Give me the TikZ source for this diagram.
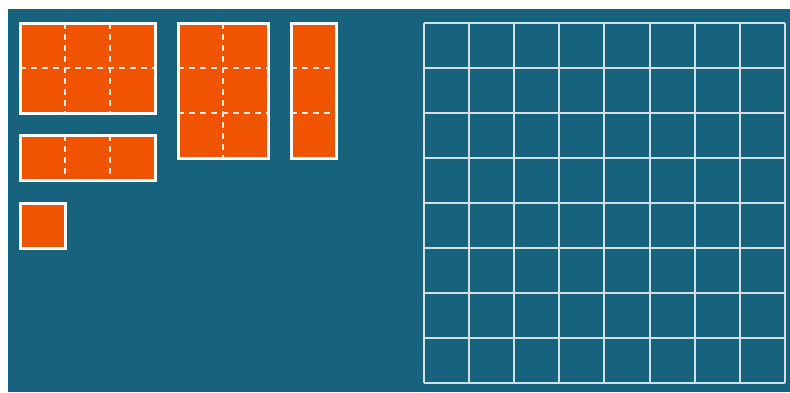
\documentclass[tikz,border=0pt]{standalone}
\usepackage{xcolor}
\usepackage{tikz}
\definecolor{boardColor}{HTML}{17627D}
\definecolor{pieceColor}{HTML}{F05400}

\begin{document}
\begin{tikzpicture}[x=0.5pt, y=-0.5pt]
    \useasboundingbox (0,0) rectangle (790,392);
    \fill[boardColor] (8,9) rectangle (790,392);
    \foreach \i in {0,...,8} {
        \draw[white!80!boardColor, line width=1pt] ({424+45.1*\i},23) -- ({424+45.1*\i},383);
        \draw[white!80!boardColor, line width=1pt] (424,{23+45*\i}) -- (785,{23+45*\i});
    }
    \foreach \px/\py/\w/\h in {20/23/3/2, 178/23/2/3, 291/23/1/3, 20/135/3/1, 20/203/1/1} {
        \begin{scope}[shift={(\px,\py)}]
            \fill[pieceColor] (0,0) rectangle ({45*\w},{45*\h});
            \foreach \k in {1,2} {
                \ifnum\k<\w
                    \draw[white!85!pieceColor, line width=0.8pt, dash pattern=on 3pt off 2.5pt]
                        ({45*\k},0) -- ({45*\k},{45*\h});
                \fi
                \ifnum\k<\h
                    \draw[white!85!pieceColor, line width=0.8pt, dash pattern=on 3pt off 2.5pt]
                        (0,{45*\k}) -- ({45*\w},{45*\k});
                \fi
            }
            \draw[white, line width=1.5pt] (0,0) rectangle ({45*\w},{45*\h});
        \end{scope}
    }
\end{tikzpicture}
\end{document}
